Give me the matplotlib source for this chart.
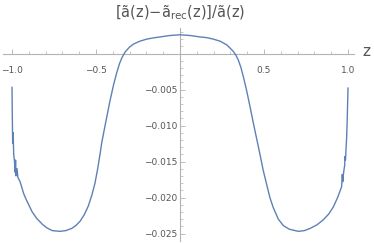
import matplotlib
matplotlib.use("Agg")
import matplotlib.pyplot as plt
from matplotlib.ticker import FixedLocator

z_vals = [-1.000, -0.998, -0.996, -0.993, -0.990, -0.985, -0.981, -0.979, -0.976, -0.970,
          -0.965, -0.952, -0.930, -0.913, -0.880, -0.853, -0.820, -0.794, -0.760, -0.714,
          -0.680, -0.645, -0.620, -0.595, -0.570, -0.546, -0.525, -0.506, -0.490, -0.476,
          -0.466, -0.440, -0.417, -0.395, -0.377, -0.360, -0.346, -0.327, -0.300, -0.278,
          -0.240, -0.198, -0.150, -0.119, -0.060, 0.000,
          0.060, 0.119, 0.160, 0.198, 0.240, 0.278, 0.300, 0.317, 0.332, 0.347,
          0.362, 0.377, 0.397, 0.417, 0.436, 0.456, 0.476, 0.495, 0.516, 0.535,
          0.555, 0.585, 0.615, 0.650, 0.704, 0.740, 0.774, 0.815, 0.853, 0.885,
          0.913, 0.940, 0.962, 0.966, 0.969, 0.972, 0.977, 0.980, 0.982, 0.985,
          0.988, 0.992, 0.995, 1.000]
rel_err = [-0.0047, -0.0090, -0.0125, -0.0110, -0.0140, -0.0150, -0.0165, -0.0148, -0.0170, -0.0160,
           -0.0172, -0.0178, -0.0195, -0.0204, -0.0220, -0.0229, -0.0237, -0.0242, -0.0246, -0.0247,
           -0.0246, -0.0243, -0.0239, -0.0233, -0.0224, -0.0212, -0.0197, -0.0180, -0.0160, -0.0140,
           -0.0124, -0.0093, -0.0066, -0.0043, -0.0027, -0.0014, -0.0006, 0.0002, 0.0009, 0.0013,
           0.0017, 0.0020, 0.0022, 0.0023, 0.0025, 0.0026,
           0.0025, 0.0023, 0.0022, 0.0020, 0.0017, 0.0012, 0.0007, 0.0003, -0.0002, -0.0009,
           -0.0019, -0.0032, -0.0052, -0.0074, -0.0096, -0.0118, -0.0140, -0.0162, -0.0182, -0.0200,
           -0.0214, -0.0230, -0.0239, -0.0244, -0.0247, -0.0246, -0.0243, -0.0238, -0.0231, -0.0223,
           -0.0213, -0.0199, -0.0185, -0.0168, -0.0178, -0.0169, -0.0160, -0.0156, -0.0143, -0.0148,
           -0.0134, -0.0116, -0.0095, -0.0048]

x_major = [-1.0, -0.5, 0.5, 1.0]
x_labels = ["\u22121.0", "\u22120.5", "0.5", "1.0"]
y_major = [-0.005, -0.010, -0.015, -0.020, -0.025]
y_labels = ["\u22120.005", "\u22120.010", "\u22120.015", "\u22120.020", "\u22120.025"]

W, H = 374, 244
fig = plt.figure(figsize=(W / 100, H / 100), dpi=100)
ax = fig.add_axes([0, 0, 1, 1])
ax.set_facecolor("white")

# pixel mapping: x_px = 180 + 168 z ; y_px = 53.5 - 7200 v
ax.set_xlim(-180 / 168, (W - 180) / 168)
ax.set_ylim((53.5 - H) / 7200, 53.5 / 7200)

ax.plot(z_vals, rel_err, color="#5E81B5", lw=1.0, zorder=3)

axis_col = "#b3b3b3"
for s in ["top", "right"]:
    ax.spines[s].set_visible(False)
ax.spines["left"].set_position(("data", 0))
ax.spines["bottom"].set_position(("data", 0))
ax.spines["left"].set_bounds((53.5 - 241) / 7200, (53.5 - 28) / 7200)
ax.spines["bottom"].set_bounds((3 - 180) / 168, (354 - 180) / 168)
for s in ["left", "bottom"]:
    ax.spines[s].set_color(axis_col)
    ax.spines[s].set_linewidth(0.8)

ax.xaxis.set_major_locator(FixedLocator(x_major))
ax.set_xticklabels(x_labels)
ax.xaxis.set_minor_locator(FixedLocator([v / 10 for v in range(-10, 11) if v not in (-10, -5, 0, 5, 10)]))
ax.yaxis.set_major_locator(FixedLocator(y_major))
ax.set_yticklabels(y_labels)
ax.yaxis.set_minor_locator(FixedLocator([-k / 1000 for k in range(1, 26) if k % 5 != 0] + [0.001, 0.002, 0.003]))

ax.tick_params(axis="both", which="major", direction="in", length=3.5, width=0.6,
               color=axis_col, labelsize=6.5, labelcolor="#555555")
ax.tick_params(axis="both", which="minor", direction="in", length=2, width=0.5, color=axis_col)
ax.tick_params(axis="x", which="major", pad=9)
ax.tick_params(axis="y", which="major", pad=2)

fig.text(180 / W, 1 - 13 / H, "[ã(z)\u2212ã$_{\\rm rec}$(z)]/ã(z)", ha="center", va="center",
         fontsize=10.5, color="#555555")
fig.text(366 / W, 1 - 52 / H, "z", ha="center", va="center", fontsize=11, color="#555555")

fig.savefig("out.png", dpi=100, facecolor="white")
